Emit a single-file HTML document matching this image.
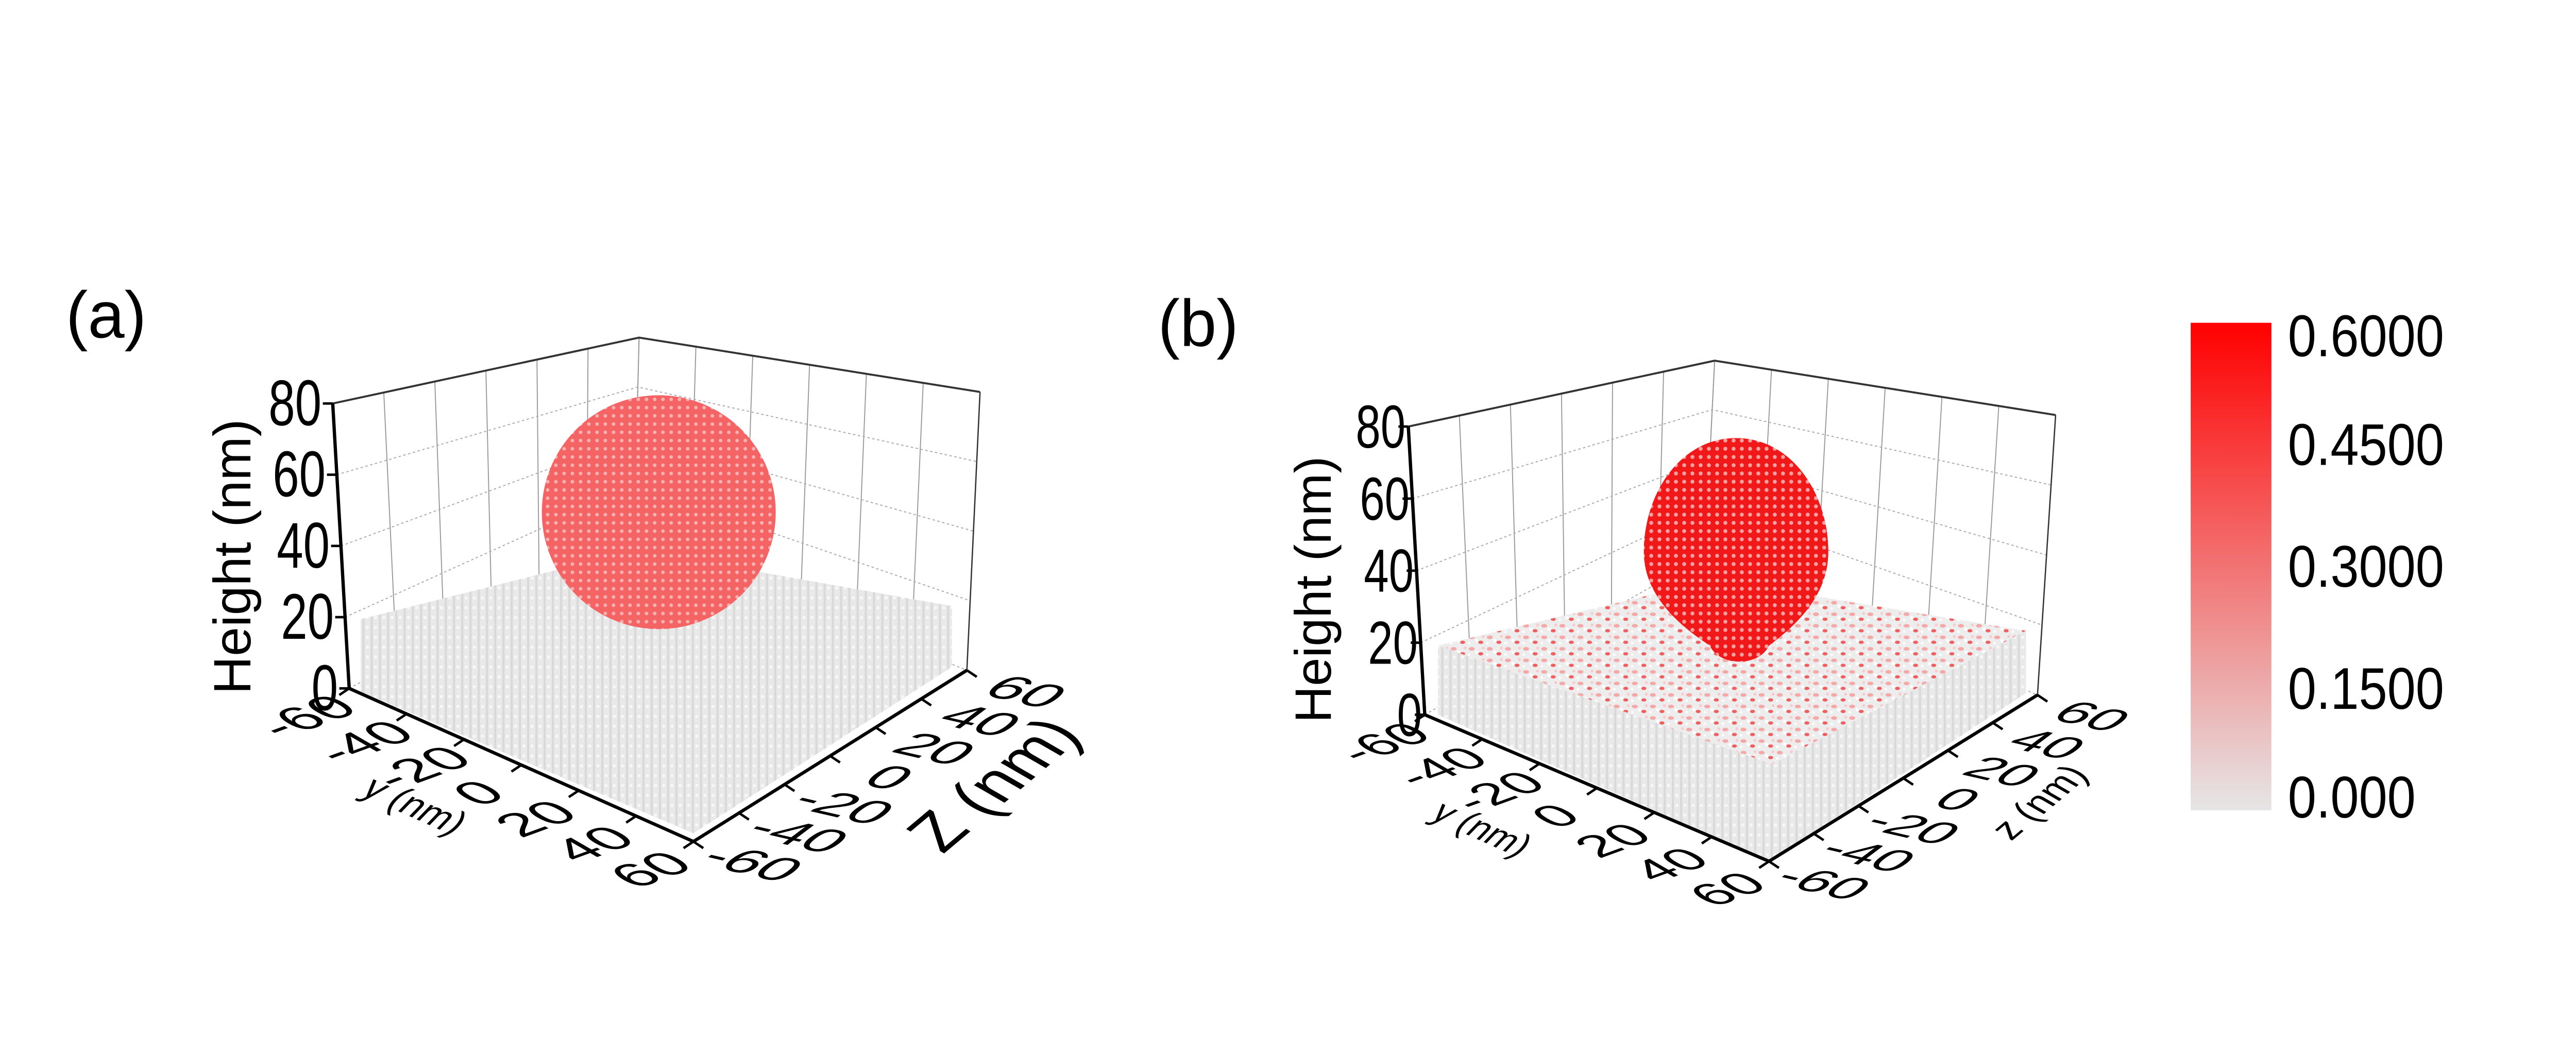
<!DOCTYPE html>
<html><head><meta charset="utf-8">
<style>
html,body{margin:0;padding:0;background:#fff;}
svg{display:block;font-family:"Liberation Sans",Arial,sans-serif;}
</style></head>
<body>
<svg id="fig" width="5013" height="2046" viewBox="0 0 1568 640" preserveAspectRatio="none" xmlns="http://www.w3.org/2000/svg">
<defs>
  <pattern id="grayStripes" width="5" height="6" patternUnits="userSpaceOnUse">
    <rect width="5" height="6" fill="#e9e9e9"/>
    <rect x="0" width="1.3" height="6" fill="#d9d9d9"/>
    <circle cx="3" cy="3" r="1" fill="#f7f7f7"/>
  </pattern>
  <pattern id="redDots" width="5" height="5" patternUnits="userSpaceOnUse">
    <rect width="5" height="5" fill="#f46464"/>
    <circle cx="2.5" cy="2.5" r="1.1" fill="#f9b0b0"/>
  </pattern>
  <pattern id="redDots2" width="5" height="5" patternUnits="userSpaceOnUse">
    <rect width="5" height="5" fill="#f01818"/>
    <circle cx="2.5" cy="2.5" r="1.2" fill="#f8a0a0"/>
  </pattern>
  <pattern id="speckle" width="11" height="7" patternUnits="userSpaceOnUse">
    <rect width="11" height="7" fill="#ededed"/>
    <ellipse cx="2.5" cy="2" rx="1.8" ry="1.1" fill="#f4a8a8"/>
    <ellipse cx="8" cy="5" rx="1.5" ry="1" fill="#ee6060"/>
    <circle cx="5.5" cy="4" r="1" fill="#ffffff"/>
    <circle cx="9.5" cy="1.5" r="0.9" fill="#f8cccc"/>
    <circle cx="1" cy="5.5" r="0.8" fill="#ffffff"/>
  </pattern>
  <linearGradient id="cbGrad" x1="0" y1="1" x2="0" y2="0">
    <stop offset="0" stop-color="#e6e6e6"/>
    <stop offset="1" stop-color="#ff0000"/>
  </linearGradient>
</defs>
<g id="panelA"></g>
<g id="panelB"></g>
<g id="colorbar"></g>
</svg>
<script>
const heightTicks = [0, 20, 40, 60, 80];
const yTicks = [-60, -40, -20, 0, 20, 40, 60];
const zTicks = [-60, -40, -20, 0, 20, 40, 60];
const colorbarTicks = ["0.000", "0.1500", "0.3000", "0.4500", "0.6000"];
const colorbarValues = [0, 0.15, 0.30, 0.45, 0.60];
const colorbarMax = 0.6;

const NS = "http://www.w3.org/2000/svg";
function mk(tag, attrs, parent, text) {
  const e = document.createElementNS(NS, tag);
  for (const k in attrs) e.setAttribute(k, attrs[k]);
  if (text !== undefined) e.textContent = text;
  parent.appendChild(e);
  return e;
}
function lerp(a, b, t) { return [a[0] + (b[0] - a[0]) * t, a[1] + (b[1] - a[1]) * t]; }
function pts(arr) { return arr.map(p => p.join(",")).join(" "); }

function drawPanel(g, P, opt) {
  const hPos = h => lerp(P.bl, P.tl, h / 80);
  const yPos = v => lerp(P.bl, P.bf, (v + 60) / 120);
  const zPos = v => lerp(P.bf, P.br, (v + 60) / 120);

  const backBot = P.bb;
  for (let i = 0; i <= 6; i++) {
    const t = i / 6;
    const a = lerp(P.tl, P.tb, t), b = lerp(P.bl, backBot, t);
    const ln = mk("line", {x1: a[0], y1: a[1], x2: b[0], y2: b[1], stroke: "#999", "stroke-width": 0.6}, g);
    
    
    const c = lerp(P.tb, P.tr, t), d = lerp(backBot, P.br, t);
    const ln2 = mk("line", {x1: c[0], y1: c[1], x2: d[0], y2: d[1], stroke: "#999", "stroke-width": 0.6}, g);
    
    
  }
  heightTicks.forEach(h => {
    const t = h / 80;
    const a = lerp(P.bl, P.tl, t), b = lerp(backBot, P.tb, t), c = lerp(P.br, P.tr, t);
    const pl = mk("polyline", {points: pts([a, b, c]), fill: "none", stroke: "#aaa", "stroke-width": 0.6, "stroke-dasharray": "1.5,1.5"}, g);
    
    
  });
  const fr = mk("polyline", {points: pts([P.tl, P.tb, P.tr]), fill: "none", stroke: "#333", "stroke-width": 1.2}, g);
  
  
  const fr2 = mk("line", {x1: P.tr[0], y1: P.tr[1], x2: P.br[0], y2: P.br[1], stroke: "#333", "stroke-width": 0.8}, g);
  
  

  const cb = P.cub;
  const side1 = mk("polygon", {points: pts([cb.tl, cb.tf, cb.bf, cb.bl]), fill: "url(#grayStripes)"}, g);
  
  
  const side2 = mk("polygon", {points: pts([cb.tf, cb.tr, cb.br, cb.bf]), fill: "url(#grayStripes)"}, g);
  
  
  const top = mk("polygon", {points: pts([cb.tl, cb.tb, cb.tr, cb.tf]), fill: opt.topFill}, g);
  
  

  const sp = mk("path", {d: opt.particle, fill: opt.particleFill}, g);
  
  

  const ax1 = mk("line", {x1: P.bl[0], y1: P.bl[1], x2: P.tl[0], y2: P.tl[1], stroke: "#000", "stroke-width": 2}, g);
  
  
  const ax2 = mk("line", {x1: P.bl[0], y1: P.bl[1], x2: P.bf[0], y2: P.bf[1], stroke: "#000", "stroke-width": 2}, g);
  
  
  const ax3 = mk("line", {x1: P.bf[0], y1: P.bf[1], x2: P.br[0], y2: P.br[1], stroke: "#000", "stroke-width": 2}, g);
  
  

  heightTicks.forEach(h => {
    const p = hPos(h);
    const tk = mk("line", {x1: p[0], y1: p[1], x2: p[0] - 6, y2: p[1], stroke: "#000", "stroke-width": 1.5}, g);
    
    
    const tx = mk("text", {x: p[0] + opt.hDx, y: p[1], "font-size": opt.hFont, "text-anchor": "end", "dominant-baseline": "central", transform: `translate(${p[0]},${p[1]}) scale(0.85,1.15) translate(${-p[0]},${-p[1]})`}, g, String(h));
    
    
  });
  yTicks.forEach(v => {
    const p = yPos(v);
    const tk = mk("line", {x1: p[0], y1: p[1], x2: p[0] - 6, y2: p[1] + 4, stroke: "#000", "stroke-width": 1.5}, g);
    
    
    const x = p[0] + opt.yOff[0], y = p[1] + opt.yOff[1];
    const tx = mk("text", {x: 0, y: 0, "font-size": opt.tFont, "text-anchor": "middle", "dominant-baseline": "central", transform: `translate(${x} ${y}) rotate(-20) skewX(40) scale(1.1,0.75)`}, g, String(v));
    
    
  });
  zTicks.forEach(v => {
    const p = zPos(v);
    const tk = mk("line", {x1: p[0], y1: p[1], x2: p[0] + 6, y2: p[1] + 4, stroke: "#000", "stroke-width": 1.5}, g);
    
    
    const x = p[0] + opt.zOff[0], y = p[1] + opt.zOff[1];
    const tx = mk("text", {x: 0, y: 0, "font-size": opt.tFont, "text-anchor": "middle", "dominant-baseline": "central", transform: `translate(${x} ${y}) rotate(13) skewX(-40) scale(1.15,0.7)`}, g, String(v));
    
    
  });
  const ht = mk("text", {x: opt.hTitle[0], y: opt.hTitle[1], "font-size": opt.hTitleFont, "text-anchor": "middle", transform: `rotate(-90 ${opt.hTitle[0]} ${opt.hTitle[1]})`}, g, "Height (nm)");
  
  
  const yt = mk("text", {x: 0, y: 0, "font-size": opt.yTitleFont, "text-anchor": "middle", "dominant-baseline": "central", transform: `translate(${opt.yTitle[0]} ${opt.yTitle[1]}) rotate(24) skewX(-20)`}, g, "y (nm)");
  
  
  const zt = mk("text", {x: 0, y: 0, "font-size": opt.zTitleFont, "text-anchor": "middle", "dominant-baseline": "central", transform: `translate(${opt.zTitle[0]} ${opt.zTitle[1]}) rotate(-40) skewX(20)`}, g, opt.zText);
  
  
  const lb = mk("text", {x: opt.label[0], y: opt.label[1], "font-size": 40}, g, opt.labelText);
  
  
}

drawPanel(document.getElementById("panelA"), {
  tl: [202, 245], tb: [388, 205], tr: [595, 238],
  bl: [212, 418], bf: [421, 511], br: [587, 407], bb: [385, 325],
  cub: {tl: [219, 376], tb: [386, 334], tr: [578, 368], tf: [421, 462], bl: [219, 420], bf: [421, 506], br: [578, 405]}
}, {
  topFill: "url(#grayStripes)",
  particle: "M400,240 A71,71 0 1 1 399.9,240 Z",
  particleFill: "url(#redDots)",
  hFont: 34, hDx: -8, tFont: 32, yOff: [-26, 17], zOff: [36, 13],
  hTitle: [152, 338], hTitleFont: 32, yTitle: [252, 489], yTitleFont: 22,
  zTitle: [603, 476], zTitleFont: 38, zText: "Z (nm)",
  label: [40, 205], labelText: "(a)"
});

drawPanel(document.getElementById("panelB"), {
  tl: [855, 259], tb: [1041, 219], tr: [1248, 252],
  bl: [865, 434], bf: [1074, 523], br: [1237, 422], bb: [1035, 338],
  cub: {tl: [873, 392], tb: [1041, 352], tr: [1230, 383], tf: [1076, 464], bl: [873, 434], bf: [1074, 523], br: [1230, 421]}
}, {
  topFill: "url(#speckle)",
  particle: "M1054,266 C1088,266 1110,300 1110,335 C1110,362 1090,380 1074,392 C1068,405 1044,405 1038,392 C1020,380 998,362 998,335 C998,300 1020,266 1054,266 Z",
  particleFill: "url(#redDots2)",
  hFont: 32, hDx: -2, tFont: 30, yOff: [-25, 17], zOff: [33, 13],
  hTitle: [808, 358], hTitleFont: 31, yTitle: [900, 503], yTitleFont: 21,
  zTitle: [1238, 487], zTitleFont: 22, zText: "z (nm)",
  label: [703, 210], labelText: "(b)"
});

const cbG = document.getElementById("colorbar");
const cbX = 1330, cbW = 49, cbTop = 196, cbBot = 492;
const cbScale = v => cbBot - (v / colorbarMax) * (cbBot - cbTop);
const cbRect = mk("rect", {x: cbX, y: cbTop, width: cbW, height: cbBot - cbTop, fill: "url(#cbGrad)"}, cbG);


colorbarValues.forEach((v, i) => {
  const y = cbScale(v);
  const ty = Math.min(Math.max(y, cbTop + 8), cbBot - 8);
  const t = mk("text", {x: 1389, y: ty, "font-size": 31, "dominant-baseline": "central", transform: `translate(1389,${ty}) scale(1,1.15) translate(-1389,${-ty})`}, cbG, colorbarTicks[i]);
  
  
});
</script>
</body></html>
